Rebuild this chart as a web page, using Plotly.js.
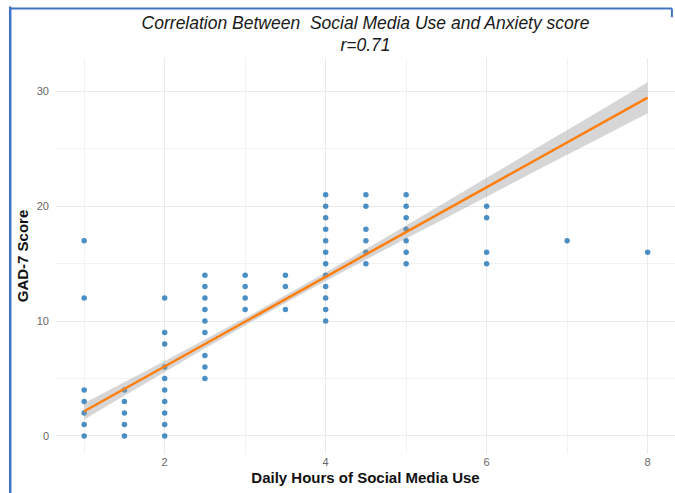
<!DOCTYPE html>
<html>
<head>
<meta charset="utf-8">
<script src="https://cdn.plot.ly/plotly-3.0.1.min.js"></script>
<style>html,body{margin:0;padding:0;background:#fff;}#chart{width:675px;height:493px;}</style>
</head>
<body>
<div id="chart"></div>
<script>
// Observations: daily hours of social media use and GAD-7 score
var hours = [
  1,1,1,1,1,1,1,
  1.5,1.5,1.5,1.5,1.5,
  2,2,2,2,2,2,2,2,2,2,
  2.5,2.5,2.5,2.5,2.5,2.5,2.5,2.5,2.5,
  3,3,3,3,
  3.5,3.5,3.5,
  4,4,4,4,4,4,4,4,4,4,4,4,
  4.5,4.5,4.5,4.5,4.5,4.5,
  5,5,5,5,5,5,5,
  6,6,6,6,
  7,
  8
];
var gad7 = [
  0,1,2,3,4,12,17,
  0,1,2,3,4,
  0,1,2,3,4,5,6,8,9,12,
  5,6,7,9,10,11,12,13,14,
  11,12,13,14,
  11,13,14,
  10,11,12,13,14,15,16,17,18,19,20,21,
  15,16,17,18,20,21,
  15,16,17,18,19,20,21,
  15,16,19,20,
  17,
  16
];
// Fitted regression line and 95% confidence band
var fitX    = [1, 2, 3, 4, 5, 6, 7, 8];
var fitY    = [2.15, 6.05, 9.95, 13.85, 17.75, 21.65, 25.55, 29.45];
var bandLow = [1.44, 5.57, 9.62, 13.48, 17.18, 20.83, 24.47, 28.10];
var bandHigh= [2.86, 6.53, 10.28, 14.22, 18.32, 22.47, 26.63, 30.80];

var titleText = 'Correlation Between&nbsp; Social Media Use and Anxiety score<br>r=0.71';
var xTitle = 'Daily Hours of Social Media Use';
var yTitle = 'GAD-7 Score';

var traces = [
  {x: hours, y: gad7, type: 'scatter', mode: 'markers',
   marker: {color: '#2b7bba', size: 5.5, opacity: 0.85}, hoverinfo: 'x+y'},
  {x: fitX, y: bandLow, type: 'scatter', mode: 'lines',
   line: {width: 0, shape: 'spline'}, hoverinfo: 'skip'},
  {x: fitX, y: bandHigh, type: 'scatter', mode: 'lines', fill: 'tonexty',
   fillcolor: 'rgba(153,153,153,0.4)', line: {width: 0, shape: 'spline'}, hoverinfo: 'skip'},
  {x: fitX, y: fitY, type: 'scatter', mode: 'lines',
   line: {color: '#ff7f0e', width: 2.5}}
];

var layout = {
  width: 675, height: 493,
  margin: {l: 56, r: 0, t: 58, b: 39},
  paper_bgcolor: '#ffffff', plot_bgcolor: '#ffffff',
  showlegend: false,
  font: {family: 'Liberation Sans, Arial, sans-serif'},
  title: {text: titleText, x: 0.5, xref: 'paper', xanchor: 'center',
          y: 0.942, yref: 'container', yanchor: 'top',
          font: {size: 17.5, color: '#1a1a1a', style: 'italic'}},
  xaxis: {range: [0.65, 8.34], tickvals: [2, 4, 6, 8], ticktext: ['2','4','6','8'],
          showgrid: true, gridcolor: '#ebebeb', gridwidth: 1, zeroline: false,
          showline: false, ticks: '',
          minor: {tickvals: [1, 3, 5, 7], showgrid: true, gridcolor: '#f2f2f2', gridwidth: 1},
          tickfont: {size: 11, color: '#666666'},
          title: {text: xTitle, standoff: 5, font: {size: 15, color: '#111', weight: 'bold'}}},
  yaxis: {range: [-1.57, 32.9], tickvals: [0, 10, 20, 30], ticktext: ['0','10','20','30'],
          showgrid: true, gridcolor: '#ebebeb', gridwidth: 1, zeroline: false,
          showline: false, ticks: '', ticklabelstandoff: 6,
          minor: {tickvals: [5, 15, 25], showgrid: true, gridcolor: '#f2f2f2', gridwidth: 1},
          tickfont: {size: 11, color: '#666666'},
          title: {text: yTitle, standoff: 4, font: {size: 15, color: '#111', weight: 'bold'}}},
  shapes: [
    {type: 'line', xref: 'paper', yref: 'paper', x0: -0.074, x1: -0.074, y0: 1.13, y1: -0.1,
     line: {color: '#4472c4', width: 2.5}},
    {type: 'line', xref: 'paper', yref: 'paper', x0: -0.074, x1: 0.995, y0: 1.125, y1: 1.125,
     line: {color: '#4472c4', width: 2}},
    {type: 'line', xref: 'paper', yref: 'paper', x0: 0.995, x1: 0.995, y0: 1.125, y1: 1.103,
     line: {color: '#4472c4', width: 2}}
  ]
};

Plotly.newPlot('chart', traces, layout, {displayModeBar: false, staticPlot: true});
</script>
</body>
</html>
